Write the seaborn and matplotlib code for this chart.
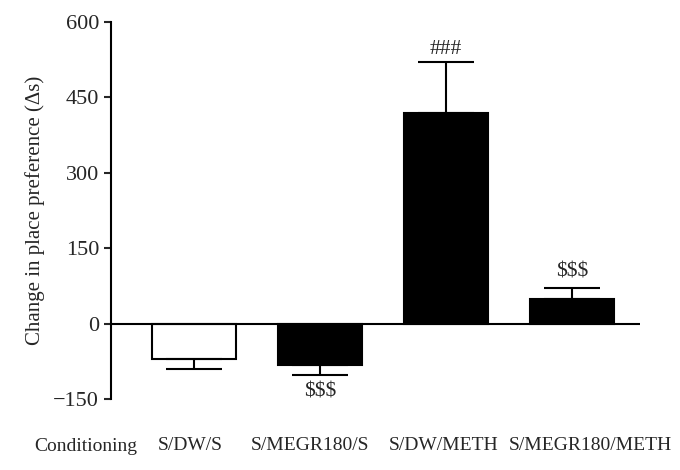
import numpy as np
import pandas as pd
import matplotlib
matplotlib.use('Agg')
import matplotlib.pyplot as plt
import matplotlib.transforms as mtrans
import seaborn as sns

groups = ['S/DW/S', 'S/MEGR180/S', 'S/DW/METH', 'S/MEGR180/METH']
means = [-70, -82, 419, 50]
sems = [20, 21, 102, 21]
marks = ['', '$$$', '###', '$$$']
mark_y = [0, -137, 545, 103]
bar_colors = ['white', 'black', 'black', 'black']

sns.set_style('white')
plt.rcParams['font.family'] = ['Liberation Serif', 'DejaVu Serif']

df = pd.DataFrame({'group': groups, 'mean': means})

fig = plt.figure(figsize=(6.8, 4.7), dpi=100)
ax = fig.add_axes([0.163, 0.151, 0.778, 0.802])

sns.barplot(data=df, x='group', y='mean', hue='group', palette=bar_colors,
            edgecolor='black', linewidth=1.5, width=0.667, legend=False, ax=ax)

# one-sided error bars, away from zero
x = np.arange(len(groups))
lower = [s if m < 0 else 0 for m, s in zip(means, sems)]
upper = [s if m >= 0 else 0 for m, s in zip(means, sems)]
ax.errorbar(x, means, yerr=[lower, upper], fmt='none', ecolor='black',
            elinewidth=1.5, capsize=20, capthick=1.5)

ax.axhline(0, color='black', linewidth=1.5, zorder=3)

for xi, txt, yy in zip(x, marks, mark_y):
    if txt:
        ax.text(xi, yy, txt, ha='center', va='center', fontsize=15.5)

ax.set_ylim(-150, 600)
ax.set_xlim(-0.66, 3.54)
ax.set_yticks([-150, 0, 150, 300, 450, 600])
ax.set_yticklabels(['\u2212150', '0', '150', '300', '450', '600'])
ax.set_ylabel('Change in place preference (\u0394s)', fontsize=15, labelpad=6)
ax.set_xlabel('')

sns.despine(ax=ax, bottom=True)
ax.spines['left'].set_linewidth(1.5)
ax.spines['left'].set_color('black')
ax.tick_params(axis='y', direction='out', length=5, width=1.5, labelsize=16, left=True)
ax.tick_params(axis='x', length=0, pad=27, labelsize=14)

# nudge a couple of category labels like in the original layout
shifts = [-4, -10, -2, 19]
for lab, dx in zip(ax.get_xticklabels(), shifts):
    lab.set_transform(lab.get_transform() + mtrans.ScaledTranslation(dx / 100, 0, fig.dpi_scale_trans))

ax.text(-0.047, -0.127, 'Conditioning', transform=ax.transAxes, ha='center', va='center', fontsize=14)

fig.savefig('out.png', dpi=100)
